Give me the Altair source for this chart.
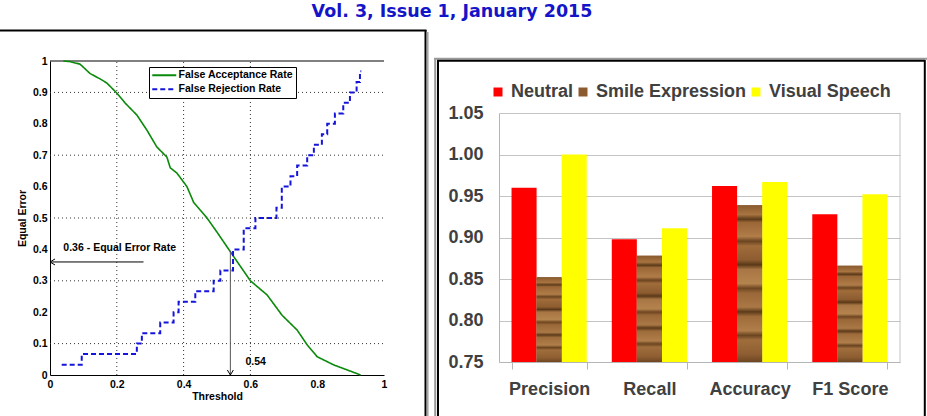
import altair as alt
import pandas as pd

HEADER = "Vol. 3, Issue 1, January 2015"

# ---- error-rate curves (left panel) ----
series_names = ["False Acceptance Rate", "False Rejection Rate"]

far_threshold = [0.04, 0.06, 0.09, 0.12, 0.15, 0.17, 0.20, 0.225, 0.26, 0.29,
                 0.32, 0.35, 0.36, 0.38, 0.41, 0.43, 0.45, 0.47, 0.50, 0.55,
                 0.60, 0.65, 0.695, 0.74, 0.77, 0.80, 0.85, 0.89, 0.93]
far_rate = [1.0, 0.998, 0.99, 0.96, 0.943, 0.93, 0.898, 0.866, 0.828, 0.78,
            0.726, 0.694, 0.66, 0.643, 0.60, 0.55, 0.525, 0.50, 0.455, 0.377,
            0.30, 0.255, 0.19, 0.143, 0.096, 0.058, 0.032, 0.016, 0.0]

frr_threshold = [0.035, 0.095, 0.26, 0.275, 0.33, 0.37, 0.385, 0.435, 0.49, 0.51,
                 0.548, 0.58, 0.615, 0.678, 0.694, 0.72, 0.74, 0.77, 0.79, 0.814,
                 0.83, 0.853, 0.878, 0.898, 0.918, 0.928, 0.932]
frr_rate = [0.033, 0.067, 0.10, 0.133, 0.167, 0.20, 0.233, 0.267, 0.30, 0.333,
            0.40, 0.467, 0.50, 0.533, 0.60, 0.633, 0.667, 0.70, 0.733, 0.767,
            0.80, 0.833, 0.867, 0.90, 0.933, 0.967, 0.967]

threshold_ticks = [0, 0.2, 0.4, 0.6, 0.8, 1]
error_ticks = [0, 0.1, 0.2, 0.3, 0.4, 0.5, 0.6, 0.7, 0.8, 0.9, 1]
grid_thresholds = [0.2, 0.4, 0.6]
grid_errors = [0.1, 0.3, 0.5, 0.7, 0.9]

EER = 0.36
EER_THRESHOLD = 0.54
EER_LABEL = "0.36 - Equal Error Rate"
THRESHOLD_LABEL = "0.54"

# ---- classification scores (right panel) ----
metrics = ["Precision", "Recall", "Accuracy", "F1 Score"]
conditions = ["Neutral", "Smile Expression", "Visual Speech"]
neutral_scores = [0.960, 0.898, 0.962, 0.928]
smile_scores = [0.852, 0.878, 0.939, 0.866]
speech_scores = [1.000, 0.911, 0.967, 0.952]
score_ticks = [0.75, 0.80, 0.85, 0.90, 0.95, 1.00, 1.05]

# ---------------------------------------------------------------
far_df = pd.DataFrame({"threshold": far_threshold, "rate": far_rate,
                       "series": series_names[0]})
frr_df = pd.DataFrame({"threshold": frr_threshold, "rate": frr_rate,
                       "series": series_names[1]})

rows = []
for cond, vals in zip(conditions, [neutral_scores, smile_scores, speech_scores]):
    for m, v in zip(metrics, vals):
        rows.append({"metric": m, "condition": cond, "score": v})
scores_df = pd.DataFrame(rows)

one = pd.DataFrame({"k": [0]})

SANS = "Liberation Sans"
SMALL = 10.5

# Left panel scales / axes (pixel ranges place the plot inside the page)
x_thr = alt.Scale(domain=[0, 1], range=[50, 384], nice=False, zero=False)
y_err = alt.Scale(domain=[0, 1], range=[375, 61], nice=False, zero=False)

thr_axis = alt.Axis(
    title="Threshold", orient="bottom", offset=-41, values=threshold_ticks,
    format=".1~f", grid=False, ticks=False, domainColor="black",
    labelFont=SANS, labelFontSize=SMALL, labelFontWeight="bold",
    labelColor="black", labelPadding=4, labelFlush=False, labelOverlap=False,
    titleFont=SANS, titleFontSize=SMALL, titleFontWeight="bold",
    titleColor="black", titlePadding=2)
err_axis = alt.Axis(
    title="Equal Error", orient="left", offset=-50, values=error_ticks,
    format=".1~f", grid=False, ticks=False, domainColor="black",
    labelFont=SANS, labelFontSize=SMALL, labelFontWeight="bold",
    labelColor="black", labelPadding=3, labelFlush=False, labelOverlap=False,
    titleFont=SANS, titleFontSize=SMALL, titleFontWeight="bold",
    titleColor="black", titlePadding=5)

curve_colors = alt.Scale(domain=series_names, range=["#0a8a0a", "#1414dc"])
curve_dash = alt.Scale(domain=series_names, range=[[1, 0], [5, 3]])
curve_legend = alt.Legend(
    title=None, orient="none", legendX=149, legendY=67,
    symbolType="M-3,0L3,0", symbolSize=64, symbolStrokeWidth=2, symbolOffset=7,
    labelFont=SANS, labelFontSize=SMALL, labelFontWeight="bold",
    labelColor="black", labelOffset=9, labelLimit=300, rowPadding=3,
    strokeColor="black", fillColor="white", padding=3)

far_line = alt.Chart(far_df).mark_line(strokeWidth=1.6).encode(
    x=alt.X("threshold:Q", scale=x_thr, axis=thr_axis),
    y=alt.Y("rate:Q", scale=y_err, axis=err_axis),
    color=alt.Color("series:N", scale=curve_colors, legend=curve_legend),
    strokeDash=alt.StrokeDash("series:N", scale=curve_dash, legend=curve_legend),
)
frr_line = alt.Chart(frr_df).mark_line(strokeWidth=2, interpolate="step-after").encode(
    x=alt.X("threshold:Q", scale=x_thr, axis=thr_axis),
    y=alt.Y("rate:Q", scale=y_err, axis=err_axis),
    color=alt.Color("series:N", scale=curve_colors, legend=curve_legend),
    strokeDash=alt.StrokeDash("series:N", scale=curve_dash, legend=curve_legend),
)

vgrid = alt.Chart(pd.DataFrame({"g": grid_thresholds})).mark_rule(
    color="#333333", strokeDash=[1, 3], strokeWidth=1).encode(
    x=alt.X("g:Q", scale=x_thr, axis=thr_axis),
    y=alt.Y(datum=0, scale=y_err, axis=err_axis),
    y2=alt.Y2(datum=1),
)
hgrid = alt.Chart(pd.DataFrame({"g": grid_errors})).mark_rule(
    color="#333333", strokeDash=[1, 3], strokeWidth=1).encode(
    y=alt.Y("g:Q", scale=y_err, axis=err_axis),
    x=alt.X(datum=0, scale=x_thr, axis=thr_axis),
    x2=alt.X2(datum=1),
)
top_edge = alt.Chart(one).mark_rule(color="black", strokeWidth=1).encode(
    y=alt.Y(datum=1, scale=y_err, axis=err_axis),
    x=alt.X(datum=0, scale=x_thr, axis=thr_axis),
    x2=alt.X2(datum=1),
)

# Equal-error-rate annotation
eer_df = pd.DataFrame({"t0": [0.0], "t1": [0.28], "rate": [EER]})
eer_arrow = alt.Chart(eer_df).mark_rule(color="black", strokeWidth=1).encode(
    x=alt.X("t0:Q", scale=x_thr, axis=thr_axis), x2="t1:Q",
    y=alt.Y("rate:Q", scale=y_err, axis=err_axis),
)
eer_head = alt.Chart(eer_df).mark_point(
    shape="M1,-0.6L0,0L1,0.6", size=100, filled=False, color="black",
    strokeWidth=1, opacity=1).encode(
    x=alt.X("t0:Q", scale=x_thr, axis=thr_axis),
    y=alt.Y("rate:Q", scale=y_err, axis=err_axis),
)
eer_text = alt.Chart(pd.DataFrame({"t": [0.04], "r": [0.405], "txt": [EER_LABEL]})).mark_text(
    align="left", baseline="middle", font=SANS, fontSize=SMALL, fontWeight="bold",
    color="black").encode(
    x=alt.X("t:Q", scale=x_thr, axis=thr_axis),
    y=alt.Y("r:Q", scale=y_err, axis=err_axis),
    text="txt:N",
)

thr_df = pd.DataFrame({"t": [EER_THRESHOLD], "r0": [0.0], "r1": [0.395]})
thr_arrow = alt.Chart(thr_df).mark_rule(color="#555555", strokeWidth=1).encode(
    x=alt.X("t:Q", scale=x_thr, axis=thr_axis),
    y=alt.Y("r0:Q", scale=y_err, axis=err_axis), y2="r1:Q",
)
thr_head = alt.Chart(thr_df).mark_point(
    shape="M-0.6,-1L0,0L0.6,-1", size=100, filled=False, color="black",
    strokeWidth=1, opacity=1).encode(
    x=alt.X("t:Q", scale=x_thr, axis=thr_axis),
    y=alt.Y("r0:Q", scale=y_err, axis=err_axis),
)
thr_text = alt.Chart(pd.DataFrame({"t": [0.585], "r": [0.04], "txt": [THRESHOLD_LABEL]})).mark_text(
    align="left", baseline="middle", font=SANS, fontSize=SMALL, fontWeight="bold",
    color="black").encode(
    x=alt.X("t:Q", scale=x_thr, axis=thr_axis),
    y=alt.Y("r:Q", scale=y_err, axis=err_axis),
    text="txt:N",
)

error_panel = alt.layer(vgrid, hgrid, top_edge, far_line, frr_line,
                        eer_arrow, eer_head, eer_text, thr_arrow, thr_head, thr_text)

# Right panel: grouped bars
x_metric = alt.Scale(domain=metrics, range=[499, 900], paddingInner=0.25, paddingOuter=0.125)
x_cond = alt.Scale(domain=conditions, paddingInner=0, paddingOuter=0)
y_score = alt.Scale(domain=[0.75, 1.05], range=[362, 113], nice=False, zero=False)

metric_axis = alt.Axis(
    title=None, orient="bottom", offset=-54, grid=False, tickBand="extent",
    tickSize=7, tickColor="#b5b5b5", domainColor="#b5b5b5", labelAngle=0,
    labelFont=SANS, labelFontSize=18, labelFontWeight="bold",
    labelColor="#404040", labelPadding=11)
score_axis = alt.Axis(
    title=None, orient="left", offset=-499, values=score_ticks, format=".2f",
    ticks=False, grid=True, gridColor="#c4c4c4", domainColor="#b5b5b5",
    labelFont=SANS, labelFontSize=18, labelFontWeight="bold",
    labelColor="#404040", labelPadding=16, labelOverlap=False, labelFlush=False)

cond_colors = alt.Scale(domain=conditions, range=["#ff0000", "#8b5a2e", "#ffff00"])
cond_legend = alt.Legend(
    title=None, orient="none", direction="horizontal", legendX=489, legendY=83,
    symbolType="square", symbolSize=81, symbolStrokeWidth=0,
    labelFont=SANS, labelFontSize=18, labelFontWeight="bold",
    labelColor="#404040", labelOffset=4, labelLimit=300, columnPadding=0)

bars = alt.Chart(scores_df).mark_bar(opacity=1).encode(
    x=alt.X("metric:N", scale=x_metric, axis=metric_axis, sort=metrics),
    xOffset=alt.XOffset("condition:N", scale=x_cond, sort=conditions),
    y=alt.Y("score:Q", scale=y_score, axis=score_axis),
    y2=alt.Y2(datum=0.75),
    color=alt.Color("condition:N", scale=cond_colors, legend=cond_legend),
)

# wood-grain finish on the smile-expression bars
wood_stops = [(0.00, "#8a5a2e"), (0.06, "#a87440"), (0.09, "#5c3a1a"), (0.11, "#9a6636"),
              (0.20, "#b07c48"), (0.23, "#6a4420"), (0.26, "#a06c3a"), (0.35, "#8c5c30"),
              (0.38, "#5a3818"), (0.41, "#a87644"), (0.50, "#b4844e"), (0.53, "#6e4622"),
              (0.56, "#9a6838"), (0.65, "#a97845"), (0.68, "#5c3a1a"), (0.71, "#9e6c3a"),
              (0.80, "#b07e4a"), (0.83, "#6a4420"), (0.86, "#a06e3c"), (0.95, "#8e5e32"),
              (1.00, "#6e4622")]
wood = alt.Gradient(gradient="linear", x1=0, x2=0, y1=0, y2=1,
                    stops=[alt.GradientStop(offset=o, color=c) for o, c in wood_stops])
wood_bars = alt.Chart(scores_df).transform_filter(
    alt.datum.condition == conditions[1]).mark_bar(color=wood, opacity=1).encode(
    x=alt.X("metric:N", scale=x_metric, axis=metric_axis, sort=metrics),
    xOffset=alt.XOffset("condition:N", scale=x_cond, sort=conditions),
    y=alt.Y("score:Q", scale=y_score, axis=score_axis),
    y2=alt.Y2(datum=0.75),
)

score_panel = alt.layer(bars, wood_bars)


# Page furniture: header and panel frames
def frame_line(x, x2, y, y2, color, width):
    return alt.Chart(one).mark_rule(color=color, strokeWidth=width).encode(
        x=alt.value(x), x2=alt.value(x2), y=alt.value(y), y2=alt.value(y2))


header = alt.Chart(pd.DataFrame({"txt": [HEADER]})).mark_text(
    font="DejaVu Sans", fontSize=17.5, fontWeight="bold", color="#1414c8",
    align="center", baseline="middle").encode(
    x=alt.value(452), y=alt.value(12), text="txt:N")

frames = [
    frame_line(0, 426.5, 30.5, 30.5, "black", 2),
    frame_line(425.5, 425.5, 30, 420, "black", 2),
    frame_line(427.8, 427.8, 32, 420, "#a0a0a0", 1.5),
    frame_line(434, 927, 58.8, 58.8, "#9a9a9a", 2),
    frame_line(435.2, 435.2, 58, 420, "#9a9a9a", 2),
    frame_line(437, 925, 60.8, 60.8, "black", 2),
    frame_line(438, 438, 60, 420, "black", 2),
    frame_line(924.8, 924.8, 60, 420, "black", 2),
    frame_line(900, 900, 113, 362, "#c4c4c4", 1),
]

chart = alt.layer(
    error_panel, score_panel, header, *frames
).resolve_scale(
    x="independent", y="independent", color="independent", strokeDash="independent"
).resolve_legend(
    color="independent", strokeDash="independent"
).resolve_axis(
    x="independent", y="independent"
).properties(
    width=927, height=416, padding=0,
    autosize=alt.AutoSizeParams(type="none"),
).configure_view(stroke=None)

chart.save("out.html", embed_options={"renderer": "svg", "actions": False})
